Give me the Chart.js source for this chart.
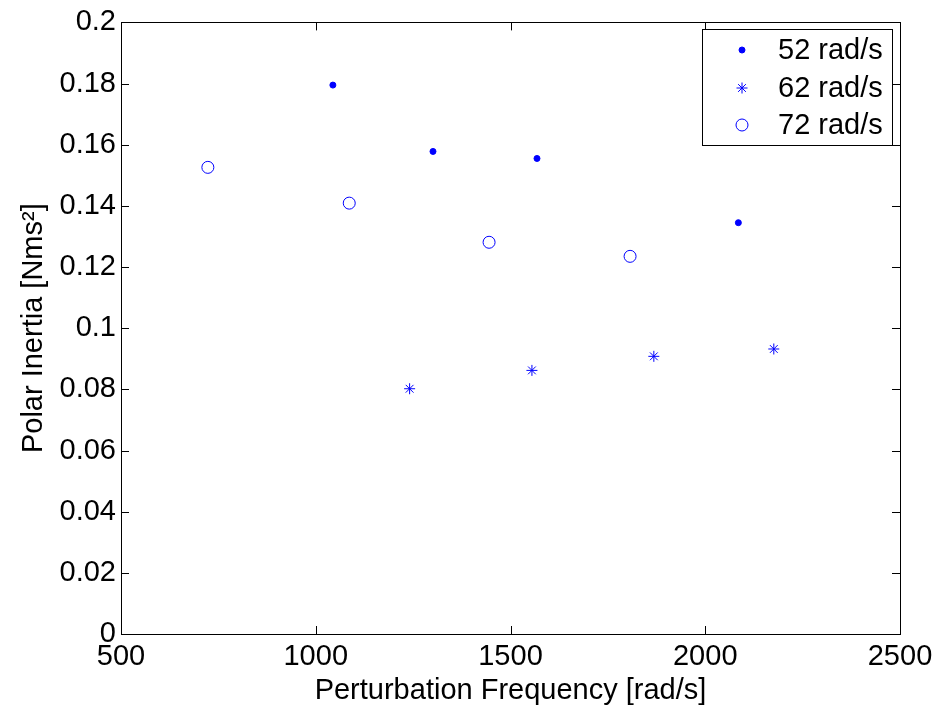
<!DOCTYPE html>
<html>
<head>
<meta charset="utf-8">
<script src="https://cdn.jsdelivr.net/npm/chart.js@4/dist/chart.umd.min.js"></script>
<style>
html,body{margin:0;padding:0;background:#fff;}
#wrap{width:940px;height:716px;position:relative;}
</style>
</head>
<body>
<div id="wrap"><canvas id="c" width="940" height="716"></canvas></div>
<script>
// ---- data ----
const seriesLabels = ['52 rad/s', '62 rad/s', '72 rad/s'];
const freq52 = [1044, 1301, 1568, 2085];
const inertia52 = [0.1795, 0.1578, 0.1555, 0.1345];
const freq62 = [1241, 1555, 1868, 2176];
const inertia62 = [0.0802, 0.0862, 0.0908, 0.0932];
const freq72 = [723, 1086, 1445, 1807];
const inertia72 = [0.1526, 0.1409, 0.1281, 0.1235];
const xTickValues = [500, 1000, 1500, 2000, 2500];
const yTickValues = [0, 0.02, 0.04, 0.06, 0.08, 0.1, 0.12, 0.14, 0.16, 0.18, 0.2];
const xTitle = 'Perturbation Frequency [rad/s]';
const yTitle = 'Polar Inertia [Nms²]';

const FONT = '"Liberation Sans", Arial, Helvetica, sans-serif';
const FS = 29;
const BLUE = '#0000ff';
const pts = (xs, ys) => xs.map((v, i) => ({x: v, y: ys[i]}));

const matlabFrame = {
  id: 'matlabFrame',
  afterDraw(chart) {
    const {ctx, chartArea: {left, right, top, bottom}, scales: {x, y}} = chart;
    ctx.save();
    ctx.strokeStyle = '#000';
    ctx.lineWidth = 1;
    const L = 8;
    ctx.beginPath();
    xTickValues.forEach(v => {
      const px = Math.round(x.getPixelForValue(v)) + 0.5;
      ctx.moveTo(px, bottom); ctx.lineTo(px, bottom - L);
      ctx.moveTo(px, top); ctx.lineTo(px, top + L);
    });
    yTickValues.forEach(v => {
      const py = Math.round(y.getPixelForValue(v)) + 0.5;
      ctx.moveTo(left, py); ctx.lineTo(left + L, py);
      ctx.moveTo(right, py); ctx.lineTo(right - L, py);
    });
    ctx.stroke();
    ctx.strokeRect(Math.round(left) + 0.5, Math.round(top) + 0.5, Math.round(right - left), Math.round(bottom - top));
    // legend
    const lx = 702, ly = 29, lw = 190, lh = 116;
    ctx.fillStyle = '#fff';
    ctx.fillRect(lx, ly, lw, lh);
    ctx.strokeRect(lx + 0.5, ly + 0.5, lw, lh);
    const rows = [50, 88, 125];
    ctx.font = FS + 'px ' + FONT;
    ctx.textBaseline = 'middle';
    ctx.textAlign = 'left';
    chart.data.datasets.forEach((ds, i) => {
      ctx.save();
      ctx.strokeStyle = ds.borderColor;
      ctx.fillStyle = ds.backgroundColor;
      ctx.lineWidth = ds.borderWidth;
      Chart.helpers.drawPoint(ctx, {pointStyle: ds.pointStyle, radius: ds.pointRadius, rotation: 0, borderWidth: ds.borderWidth}, 742, rows[i]);
      ctx.restore();
      ctx.fillStyle = '#000';
      ctx.fillText(ds.label, 778, rows[i] + 1);
    });
    ctx.restore();
  }
};

new Chart(document.getElementById('c'), {
  type: 'scatter',
  data: {
    datasets: [
      {label: seriesLabels[0], data: pts(freq52, inertia52), pointStyle: 'circle', pointRadius: 3, borderWidth: 1, borderColor: BLUE, backgroundColor: BLUE},
      {label: seriesLabels[1], data: pts(freq62, inertia62), pointStyle: 'star', pointRadius: 5.5, borderWidth: 1, borderColor: BLUE, backgroundColor: BLUE},
      {label: seriesLabels[2], data: pts(freq72, inertia72), pointStyle: 'circle', pointRadius: 6, borderWidth: 1, borderColor: BLUE, backgroundColor: 'rgba(255,255,255,0)'}
    ]
  },
  options: {
    responsive: false,
    animation: false,
    events: [],
    layout: {padding: {top: 20, right: 40, left: 0, bottom: 0}},
    plugins: {legend: {display: false}, tooltip: {enabled: false}},
    scales: {
      x: {
        type: 'linear', min: 500, max: 2500,
        afterBuildTicks: s => { s.ticks = xTickValues.map(v => ({value: v})); },
        afterFit: s => { s.height = 82; },
        grid: {display: false, drawTicks: false},
        border: {display: false},
        ticks: {color: '#000', font: {family: FONT, size: FS}, padding: 6, maxRotation: 0, autoSkip: false, callback: v => String(v)},
        title: {display: true, text: xTitle, color: '#000', font: {family: FONT, size: FS}, padding: {top: 0, bottom: 8}}
      },
      y: {
        type: 'linear', min: 0, max: 0.2,
        afterBuildTicks: s => { s.ticks = yTickValues.map(v => ({value: v})); },
        afterFit: s => { s.width = 121; },
        grid: {display: false, drawTicks: false},
        border: {display: false},
        ticks: {color: '#000', font: {family: FONT, size: FS}, padding: 5, autoSkip: false, callback: v => String(Number(v.toFixed(2)))},
        title: {display: true, text: yTitle, color: '#000', font: {family: FONT, size: FS}, padding: {top: 17, bottom: 0}}
      }
    }
  },
  plugins: [matlabFrame]
});
</script>
</body>
</html>
